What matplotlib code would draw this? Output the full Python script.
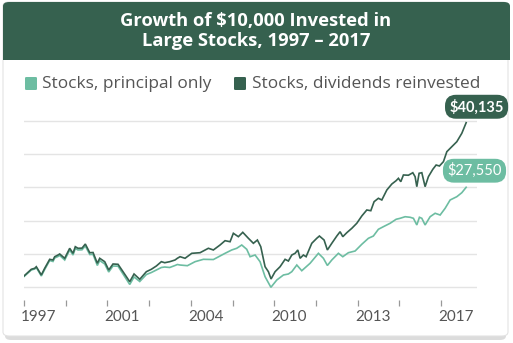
import matplotlib
matplotlib.use("Agg")
import matplotlib.pyplot as plt
from matplotlib.patches import FancyBboxPatch, Rectangle
from matplotlib.transforms import ScaledTranslation

# ---------------- data ----------------
title = "Growth of $10,000 Invested in\nLarge Stocks, 1997 \u2013 2017"
series_names = ["Stocks, principal only", "Stocks, dividends reinvested"]
tick_labels = ["1997", "", "2001", "", "2004", "", "2010", "", "2013", "", "2017"]
end_labels = ["$27,550", "$40,135"]

period_div = [0.00, 0.175, 0.257, 0.295, 0.415, 0.496, 0.616, 0.695, 0.736, 0.815, 0.856, 0.976,
              1.096, 1.175, 1.230, 1.295, 1.391, 1.470, 1.576, 1.655, 1.758, 1.815, 1.935, 2.031,
              2.134, 2.254, 2.374, 2.535, 2.638, 2.775, 2.933, 3.053, 3.173, 3.293, 3.374, 3.494,
              3.621, 3.676, 3.741, 3.861, 4.022, 4.221, 4.420, 4.540, 4.700, 4.820, 4.940, 5.019,
              5.139, 5.245, 5.379, 5.499, 5.595, 5.676, 5.779, 5.859, 5.923, 6.019, 6.139, 6.259,
              6.338, 6.420, 6.499, 6.564, 6.619, 6.698, 6.763, 6.899, 7.019, 7.082, 7.194, 7.273,
              7.379, 7.499, 7.578, 7.643, 7.739, 7.859, 7.978, 8.098, 8.218, 8.314, 8.393, 8.496,
              8.578, 8.698, 8.818, 8.921, 8.976, 9.033, 9.096, 9.216, 9.321, 9.376, 9.417, 9.472,
              9.537, 9.616, 9.695, 9.801, 9.880, 9.959, 10.055, 10.137, 10.256, 10.376, 10.496, 10.600]
value_div = [10270, 11580, 11770, 12080, 10470, 11770, 13520, 13390, 14030, 14360, 14560, 13720,
             15670, 14690, 15980, 15670, 15700, 16500, 14810, 14850, 12750, 13720, 13060, 11440,
             12610, 12550, 11110, 9160, 10660, 9630, 11110, 11580, 12220, 13060, 12860, 13060,
             13390, 13720, 14030, 13720, 14690, 14810, 15670, 15340, 16310, 17150, 16950, 18590,
             17930, 18780, 17620, 16640, 17280, 15980, 12080, 11110, 9690, 11110, 12080, 13520,
             13190, 14360, 14690, 15340, 13720, 14360, 14030, 16640, 17620, 18060, 17280, 15340,
             16640, 18060, 18900, 17930, 18710, 19560, 20540, 21960, 23130, 22990, 24750, 25410,
             25080, 27020, 28190, 28840, 29300, 28640, 29950, 29900, 30390, 29620, 27670, 30280,
             30390, 27670, 29620, 31060, 31890, 31700, 32540, 34490, 35460, 36430, 38070, 40135]

period_prin = [0.00, 0.175, 0.257, 0.295, 0.415, 0.496, 0.616, 0.695, 0.736, 0.815, 0.856, 0.976,
               1.096, 1.175, 1.230, 1.295, 1.391, 1.470, 1.576, 1.655, 1.758, 1.815, 1.935, 2.031,
               2.134, 2.254, 2.374, 2.535, 2.638, 2.775, 2.933, 3.053, 3.173, 3.293, 3.374, 3.494,
               3.621, 3.676, 3.741, 3.917, 4.101, 4.300, 4.540, 4.820, 4.980, 5.100, 5.220, 5.340,
               5.420, 5.540, 5.659, 5.779, 5.919, 6.060, 6.220, 6.338, 6.420, 6.540, 6.659, 6.859,
               7.058, 7.178, 7.273, 7.379, 7.537, 7.643, 7.777, 7.938, 8.098, 8.257, 8.376, 8.496,
               8.616, 8.777, 8.921, 9.017, 9.137, 9.257, 9.336, 9.417, 9.480, 9.537, 9.616, 9.736,
               9.856, 9.976, 10.096, 10.216, 10.376, 10.496, 10.600]
value_prin = [10170, 11440, 11640, 11930, 10270, 11540, 13290, 13100, 13780, 14070, 14270, 13390,
              15340, 14360, 15630, 15340, 15380, 16120, 14460, 14490, 12320, 13290, 12610, 11050,
              12220, 12180, 10660, 8620, 10080, 9200, 10560, 10950, 11440, 11930, 12020, 11930,
              12320, 12510, 12410, 12280, 13060, 13520, 13480, 14690, 15340, 15670, 16310, 15470,
              14030, 14360, 13060, 10140, 8070, 9490, 10470, 10660, 11110, 12410, 11300, 12750,
              14690, 13720, 12320, 13390, 14690, 14030, 14810, 15140, 16450, 17620, 18060, 19370,
              19880, 20540, 21320, 21510, 21820, 21710, 21510, 20210, 21710, 21510, 20210, 21820,
              22490, 22150, 23460, 25080, 25720, 26500, 27550]

grid_values = [8070, 14560, 21050, 27540, 34030, 40520]

# ---------------- style ----------------
DARK = "#36614f"
LIGHT = "#6dbda2"
TEXT = "#555555"
W, H = 513, 343

fig = plt.figure(figsize=(W / 100, H / 100), dpi=100)
fig.patch.set_facecolor("white")

def fx(px):
    return px / W

def fy(py):
    return 1 - py / H

# card shadow + card
fig.add_artist(FancyBboxPatch((fx(5), fy(340)), fx(506) - fx(5), fy(4) - fy(340),
                              boxstyle="round,pad=0,rounding_size=0.012",
                              transform=fig.transFigure, facecolor="#dcdcdc",
                              edgecolor="none", zorder=0))
fig.add_artist(FancyBboxPatch((fx(3), fy(336)), fx(508) - fx(3), fy(2) - fy(336),
                              boxstyle="round,pad=0,rounding_size=0.012",
                              transform=fig.transFigure, facecolor="white",
                              edgecolor="#e3e3e3", linewidth=0.8, zorder=0.1))
# header band
fig.add_artist(FancyBboxPatch((fx(3), fy(60)), fx(510) - fx(3), fy(2) - fy(60),
                              boxstyle="round,pad=0,rounding_size=0.012",
                              transform=fig.transFigure, facecolor=DARK,
                              edgecolor="none", zorder=0.2))
fig.add_artist(Rectangle((fx(3), fy(60)), fx(510) - fx(3), fy(30) - fy(60),
                         transform=fig.transFigure, facecolor=DARK,
                         edgecolor="none", zorder=0.2))
fig.text(fx(256), fy(31), title, ha="center", va="center", color="white",
         fontsize=13.2, fontweight="bold", family="Open Sans", linespacing=1.1, zorder=1)

# legend
legend_x = [25, 234]
text_x = [42, 252]
for name, col, lx, tx in zip(series_names, [LIGHT, DARK], legend_x, text_x):
    fig.add_artist(FancyBboxPatch((fx(lx), fy(90)), fx(12), fy(77) - fy(90),
                                  boxstyle="round,pad=0,rounding_size=0.003",
                                  transform=fig.transFigure, facecolor=col,
                                  edgecolor="none", zorder=1))
    fig.text(fx(tx), fy(83.5), name, ha="left", va="center", color=TEXT,
             fontsize=12.4, family="Open Sans", zorder=1)

# axes
ax = fig.add_axes([fx(24), fy(300), fx(477) - fx(24), fy(100) - fy(300)])
ax.set_zorder(3)
ax.set_facecolor("none")
ax.set_xlim(0, 10.86)
ax.set_ylim(5596, 44556)
for s in ax.spines.values():
    s.set_visible(False)
ax.set_yticks(grid_values)
ax.yaxis.grid(True, color="#e4e4e4", linewidth=1.0)
ax.tick_params(axis="y", length=0, labelleft=False)
ax.set_xticks(range(len(tick_labels)))
ax.set_xticklabels(tick_labels)
ax.tick_params(axis="x", direction="out", length=4, width=0.9, color="#999999",
               labelcolor=TEXT, labelsize=11, pad=3)
shift = ScaledTranslation(-2 / 72, 0, fig.dpi_scale_trans)
for lab in ax.get_xticklabels():
    lab.set_ha("left")
    lab.set_family("Lato")
    lab.set_transform(lab.get_transform() + shift)

ax.plot(period_prin, value_prin, color=LIGHT, linewidth=1.2, zorder=3,
        solid_joinstyle="miter")
ax.plot(period_div, value_div, color=DARK, linewidth=1.2, zorder=4,
        solid_joinstyle="miter")

ax.annotate(end_labels[1], xy=(period_div[-1], value_div[-1]), xytext=(7.5, 6),
            textcoords="offset points", ha="center", va="bottom", color="white",
            fontsize=10.5, fontweight="bold", family="Lato", annotation_clip=False,
            bbox=dict(boxstyle="round,pad=0.3,rounding_size=0.75", fc=DARK, ec="none"))
ax.annotate(end_labels[0], xy=(period_prin[-1], value_prin[-1]), xytext=(6, 6.5),
            textcoords="offset points", ha="center", va="bottom", color="white",
            fontsize=10.5, family="Lato", annotation_clip=False,
            bbox=dict(boxstyle="round,pad=0.3,rounding_size=0.75", fc=LIGHT, ec="none"))

fig.savefig("out.png", dpi=100, facecolor="white")
